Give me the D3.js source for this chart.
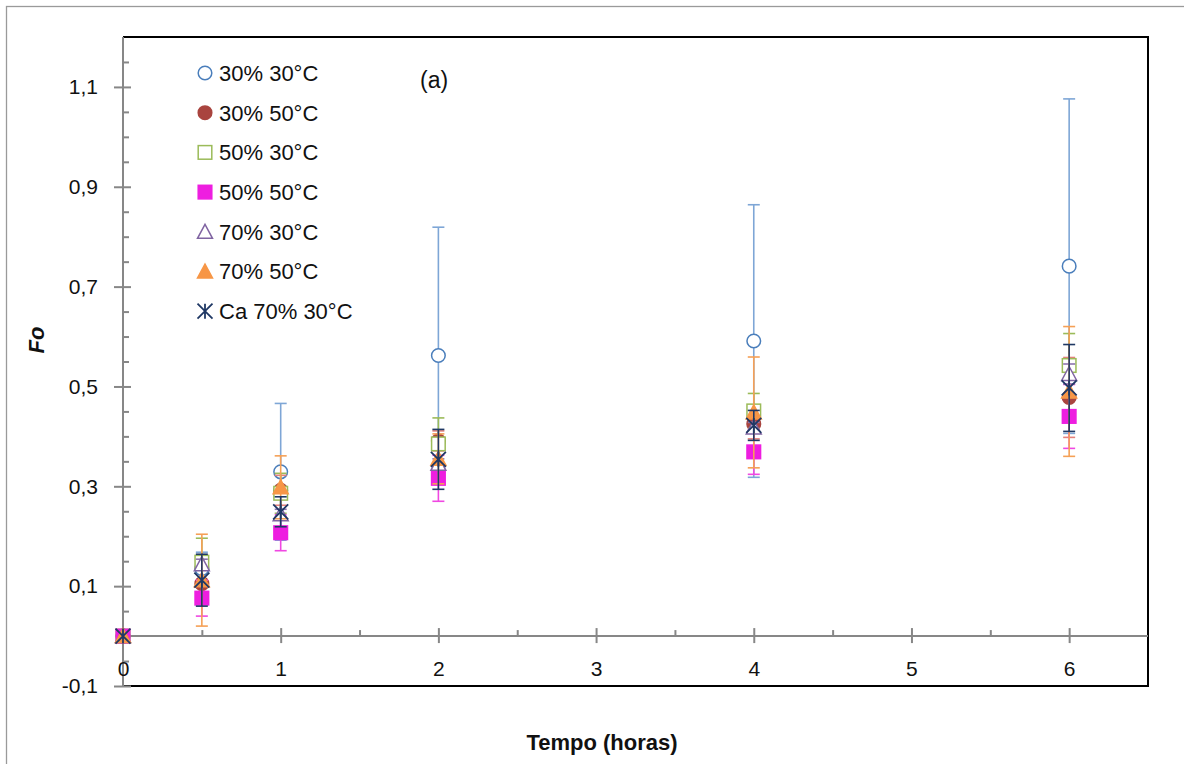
<!DOCTYPE html>
<html>
<head>
<meta charset="utf-8">
<script src="https://cdn.jsdelivr.net/npm/d3@7/dist/d3.min.js"></script>
<style>
body { margin: 0; background: #fff; }
text { font-family: "Liberation Sans", Arial, sans-serif; fill: #111; }
</style>
</head>
<body>
<div id="chart"></div>
<script>
// time points (hours)
var times = [0, 0.5, 1, 2, 4, 6];

var seriesNames = ["30% 30°C", "30% 50°C", "50% 30°C", "50% 50°C", "70% 30°C", "70% 50°C", "Ca 70% 30°C"];

// Fo values and error (+/-)
var fo3030 = [0, 0.135, 0.329, 0.562, 0.591, 0.741];
var err3030 = [0, 0.033, 0.137, 0.257, 0.273, 0.335];
var fo3050 = [0, 0.105, 0.292, 0.391, 0.425, 0.478];
var err3050 = [0, 0.03, 0.03, 0.02, 0.03, 0.08];
var fo5030 = [0, 0.148, 0.286, 0.385, 0.451, 0.542];
var err5030 = [0, 0.048, 0.04, 0.052, 0.035, 0.064];
var fo5050 = [0, 0.076, 0.207, 0.316, 0.369, 0.44];
var err5050 = [0, 0.036, 0.036, 0.046, 0.045, 0.064];
var fo7030 = [0, 0.144, 0.244, 0.345, 0.418, 0.525];
var err7030 = [0, 0.01, 0.01, 0.01, 0.01, 0.02];
var fo7050 = [0, 0.112, 0.298, 0.355, 0.448, 0.49];
var err7050 = [0, 0.092, 0.063, 0.05, 0.111, 0.13];
var foCa7030 = [0, 0.112, 0.249, 0.354, 0.422, 0.497];
var errCa7030 = [0, 0.052, 0.03, 0.06, 0.03, 0.087];

var yTickValues = [-0.1, 0.1, 0.3, 0.5, 0.7, 0.9, 1.1];
var yTickLabels = ["-0,1", "0,1", "0,3", "0,5", "0,7", "0,9", "1,1"];
var xTickValues = [0, 1, 2, 3, 4, 5, 6];
var xTickLabels = ["0", "1", "2", "3", "4", "5", "6"];

(function() {
var series = [
    { name: seriesNames[0], vals: fo3030, err: err3030, shape: "circle", stroke: "#4a7ebb", fill: "#fff", bar: "#7ea6d6" },
    { name: seriesNames[1], vals: fo3050, err: err3050, shape: "circle", stroke: "#a9443f", fill: "#a9443f", bar: "#e4817c" },
    { name: seriesNames[2], vals: fo5030, err: err5030, shape: "square", stroke: "#9bbb59", fill: "#fff", bar: "#9bbb59" },
    { name: seriesNames[3], vals: fo5050, err: err5050, shape: "square", stroke: "#ee1ee0", fill: "#ee1ee0", bar: "#f048e2" },
    { name: seriesNames[4], vals: fo7030, err: err7030, shape: "triangle", stroke: "#8064a2", fill: "#fff", bar: "#8d74ad" },
    { name: seriesNames[5], vals: fo7050, err: err7050, shape: "triangle", stroke: "#f79646", fill: "#f79646", bar: "#f5a056" },
    { name: seriesNames[6], vals: foCa7030, err: errCa7030, shape: "star", stroke: "#1f3864", fill: "none", bar: "#1f3864" }
];

var W = 1184, H = 764;
var plotLeft = 123, plotTop = 37, plotRight = 1148, plotBottom = 686;
var axisGrey = "#878787";

var svg = d3.select("#chart").append("svg")
    .attr("width", W)
    .attr("height", H);

// outer chart border
svg.append("rect")
    .attr("x", 6.5).attr("y", 6.5)
    .attr("width", 1300).attr("height", 900)
    .attr("fill", "none")
    .attr("stroke", "#9a9a9a")
    .attr("stroke-width", 1.3);

var x = d3.scaleLinear().domain([0, 6.5]).range([plotLeft, plotRight]);
var y = d3.scaleLinear().domain([-0.1, 1.2]).range([plotBottom, plotTop]);

// plot area border (top, right, bottom)
svg.append("path")
    .attr("d", "M" + plotLeft + "," + plotTop + "H" + plotRight + "V" + plotBottom + "H" + plotLeft)
    .attr("fill", "none")
    .attr("stroke", "#000")
    .attr("stroke-width", 2);

// y axis: major ticks crossing, minor inside
var yMinor = d3.range(-0.05, 1.2, 0.05).map(function(d) { return Math.round(d * 100) / 100; })
    .filter(function(d) { return yTickValues.indexOf(d) < 0 && Math.abs(d) > 1e-9; });

var yAxisG = svg.append("g").attr("transform", "translate(" + plotLeft + ",0)");
yAxisG.call(d3.axisLeft(y).tickValues(yTickValues).tickSize(9).tickPadding(16)
    .tickFormat(function(d, i) { return yTickLabels[i]; }));
yAxisG.append("g").call(d3.axisRight(y).tickValues(yTickValues).tickSize(8).tickFormat(""));
yAxisG.append("g").call(d3.axisRight(y).tickValues(yMinor).tickSize(6).tickFormat(""));
yAxisG.selectAll("path.domain").remove();
yAxisG.append("line")
    .attr("x1", 0).attr("x2", 0)
    .attr("y1", y(-0.1)).attr("y2", y(1.2));
yAxisG.selectAll("line").attr("stroke", axisGrey).attr("stroke-width", 2);
yAxisG.selectAll("text").style("font-size", "21px").attr("fill", "#111");

// x axis at Fo = 0
var xMinor = [0.5, 1.5, 2.5, 3.5, 4.5, 5.5];
var xAxisG = svg.append("g").attr("transform", "translate(0," + y(0) + ")");
xAxisG.call(d3.axisBottom(x).tickValues(xTickValues).tickSize(7).tickPadding(18)
    .tickFormat(function(d, i) { return xTickLabels[i]; }));
xAxisG.append("g").call(d3.axisTop(x).tickValues(xTickValues).tickSize(8).tickFormat(""));
xAxisG.append("g").call(d3.axisTop(x).tickValues(xMinor).tickSize(6).tickFormat(""));
xAxisG.selectAll("path.domain").remove();
xAxisG.append("line")
    .attr("x1", x(0)).attr("x2", x(6.5))
    .attr("y1", 0).attr("y2", 0);
xAxisG.selectAll("line").attr("stroke", axisGrey).attr("stroke-width", 2);
xAxisG.selectAll("text").style("font-size", "21px").attr("fill", "#111");

// marker drawing
function drawMarker(g, s, cx, cy) {
    if (s.shape === "circle") {
        g.append("circle").attr("cx", cx).attr("cy", cy).attr("r", 6.8)
            .attr("fill", s.fill).attr("stroke", s.stroke).attr("stroke-width", 1.5);
    } else if (s.shape === "square") {
        g.append("rect").attr("x", cx - 6.8).attr("y", cy - 6.8).attr("width", 13.6).attr("height", 13.6)
            .attr("fill", s.fill).attr("stroke", s.stroke).attr("stroke-width", 1.5);
    } else if (s.shape === "triangle") {
        g.append("path")
            .attr("d", "M" + cx + "," + (cy - 7.5) + "L" + (cx + 7.5) + "," + (cy + 6.5) + "L" + (cx - 7.5) + "," + (cy + 6.5) + "Z")
            .attr("fill", s.fill).attr("stroke", s.stroke).attr("stroke-width", 1.5);
    } else {
        g.append("path")
            .attr("d", "M" + (cx - 7.5) + "," + (cy - 7.5) + "L" + (cx + 7.5) + "," + (cy + 7.5) +
                "M" + (cx + 7.5) + "," + (cy - 7.5) + "L" + (cx - 7.5) + "," + (cy + 7.5) +
                "M" + cx + "," + (cy - 7.5) + "L" + cx + "," + (cy + 7.5))
            .attr("fill", "none").attr("stroke", s.stroke).attr("stroke-width", 1.8);
    }
}

// series: error bars then markers, in series order
series.forEach(function(s) {
    var g = svg.append("g").attr("class", "series");
    times.forEach(function(t, i) {
        var v = s.vals[i], e = s.err[i];
        if (e > 0) {
            var px = x(t), y1 = y(v + e), y2 = y(v - e);
            g.append("line").attr("x1", px).attr("x2", px).attr("y1", y1).attr("y2", y2)
                .attr("stroke", s.bar).attr("stroke-width", 1.6);
            [y1, y2].forEach(function(cy) {
                g.append("line").attr("x1", px - 6).attr("x2", px + 6).attr("y1", cy).attr("y2", cy)
                    .attr("stroke", s.bar).attr("stroke-width", 1.6);
            });
        }
    });
    times.forEach(function(t, i) {
        drawMarker(g, s, x(t), y(s.vals[i]));
    });
});

// legend
var legend = svg.append("g");
series.forEach(function(s, i) {
    var ly = 73 + i * 39.7;
    drawMarker(legend, s, 205, ly);
    legend.append("text")
        .attr("x", 219).attr("y", ly)
        .attr("dy", "0.36em")
        .style("font-size", "22px")
        .text(s.name);
});

// panel label
svg.append("text")
    .attr("x", 420).attr("y", 80)
    .attr("dy", "0.36em")
    .style("font-size", "23px")
    .text("(a)");

// axis titles
svg.append("text")
    .attr("transform", "translate(44,340) rotate(-90)")
    .attr("text-anchor", "middle")
    .style("font-size", "22px")
    .style("font-weight", "bold")
    .style("font-style", "italic")
    .text("Fo");

svg.append("text")
    .attr("x", 602).attr("y", 742)
    .attr("dy", "0.36em")
    .attr("text-anchor", "middle")
    .style("font-size", "22px")
    .style("font-weight", "bold")
    .text("Tempo (horas)");
})();
</script>
</body>
</html>
